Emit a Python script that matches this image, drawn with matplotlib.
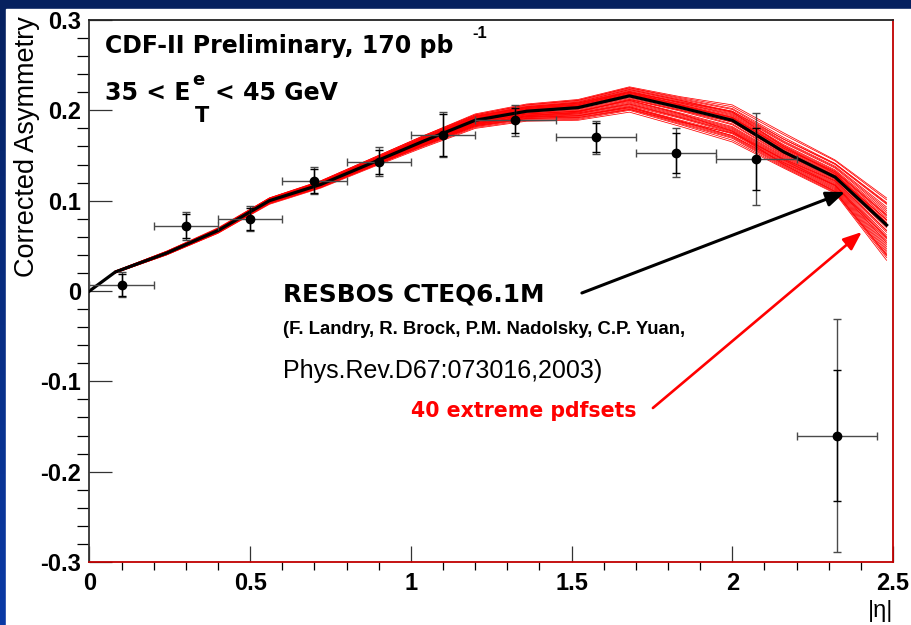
import numpy as np
import matplotlib.pyplot as plt
from matplotlib.colors import LinearSegmentedColormap
from matplotlib.patches import Rectangle
from matplotlib.ticker import MultipleLocator

W, H = 912, 625

# RESBOS CTEQ6.1M central prediction at the |eta| nodes
eta_nodes = [0.0, 0.08, 0.24, 0.40, 0.56, 0.72, 0.88, 1.04, 1.20,
             1.36, 1.52, 1.68, 1.84, 2.00, 2.16, 2.32, 2.48]
resbos_central = [0.000, 0.021, 0.042, 0.067, 0.100, 0.118, 0.142, 0.166, 0.189,
                  0.199, 0.203, 0.216, 0.203, 0.189, 0.154, 0.126, 0.073]

# 40 extreme pdf sets: offsets from the central curve (x 1e-3), nodes 0.08 .. 2.48
pdfset_offsets = [
    [1, 2, 3, 3, 4, 5, 6, 7, 8, 9, 10, 12, 17, 21, 19, 30],
    [1, 2, 2, 3, 4, 5, 6, 6, 7, 8, 9, 11, 15, 19, 18, 28],
    [1, 2, 2, 3, 3, 4, 5, 6, 7, 8, 9, 10, 13, 16, 15, 25],
    [1, 1, 2, 2, 3, 4, 5, 5, 6, 7, 8, 9, 12, 14, 14, 23],
    [1, 1, 2, 2, 3, 3, 4, 5, 5, 6, 7, 8, 10, 12, 12, 20],
    [1, 1, 2, 2, 2, 3, 4, 4, 5, 5, 6, 7, 9, 11, 11, 18],
    [0, 1, 1, 2, 2, 3, 3, 4, 4, 5, 5, 6, 8, 10, 10, 16],
    [0, 1, 1, 1, 2, 2, 3, 3, 4, 4, 5, 5, 7, 8, 8, 14],
    [0, 1, 1, 1, 2, 2, 2, 3, 3, 4, 4, 5, 6, 7, 7, 12],
    [0, 1, 1, 1, 1, 2, 2, 2, 3, 3, 3, 4, 5, 6, 6, 10],
    [0, 0, 1, 1, 1, 1, 2, 2, 2, 3, 3, 3, 4, 5, 5, 8],
    [0, 0, 1, 1, 1, 1, 1, 2, 2, 2, 2, 3, 3, 4, 4, 6],
    [0, 0, 0, 1, 1, 1, 1, 1, 1, 2, 2, 2, 3, 3, 3, 5],
    [0, 0, 0, 0, 1, 1, 1, 1, 1, 1, 1, 2, 2, 2, 2, 3],
    [0, 0, 0, 0, 0, 0, 1, 1, 1, 1, 1, 1, 1, 1, 1, 2],
    [0, 1, 1, 2, 2, 3, 3, 4, 5, 6, 7, 8, 9, 6, 4, 2],
    [0, 0, 1, 1, 1, 2, 2, 2, 3, 3, 4, 6, 10, 14, 15, 24],
    [1, 1, 2, 2, 3, 3, 4, 4, 4, 5, 4, 3, 3, 4, 6, 11],
    [0, 0, 0, 0, 0, -1, -1, -1, -1, -1, -2, -2, -2, -2, -2, -3],
    [0, 0, 0, -1, -1, -1, -1, -1, -2, -2, -3, -3, -4, -3, -3, -6],
    [0, 0, -1, -1, -1, -1, -2, -2, -2, -3, -4, -4, -5, -4, -4, -8],
    [0, 0, -1, -1, -1, -1, -2, -2, -3, -4, -5, -6, -7, -5, -5, -11],
    [0, -1, -1, -1, -1, -2, -2, -3, -3, -4, -6, -7, -8, -6, -6, -13],
    [0, -1, -1, -1, -1, -2, -2, -3, -4, -5, -7, -8, -9, -7, -7, -15],
    [0, -1, -1, -1, -2, -2, -3, -3, -4, -6, -8, -9, -10, -8, -8, -17],
    [0, -1, -1, -2, -2, -2, -3, -4, -5, -6, -9, -10, -11, -9, -9, -19],
    [0, -1, -1, -2, -2, -2, -3, -4, -5, -7, -9, -11, -12, -9, -9, -20],
    [0, -1, -1, -2, -2, -3, -3, -4, -6, -7, -10, -11, -13, -10, -10, -22],
    [-1, -1, -2, -2, -2, -3, -4, -5, -6, -8, -11, -12, -14, -11, -11, -24],
    [-1, -1, -2, -2, -2, -3, -4, -5, -7, -9, -12, -14, -15, -12, -12, -26],
    [-1, -1, -2, -2, -3, -3, -4, -6, -7, -9, -12, -15, -17, -13, -13, -28],
    [-1, -1, -2, -3, -3, -3, -5, -6, -8, -10, -13, -16, -18, -14, -14, -30],
    [-1, -1, -2, -3, -3, -4, -5, -7, -8, -11, -14, -17, -19, -15, -15, -32],
    [-1, -2, -2, -3, -3, -4, -5, -7, -9, -12, -15, -18, -20, -16, -16, -34],
    [-1, -2, -3, -3, -3, -4, -6, -8, -10, -13, -16, -19, -22, -17, -17, -36],
    [-1, -2, -3, -4, -4, -5, -7, -9, -11, -14, -18, -21, -24, -18, -18, -39],
    [0, -1, -1, -2, -2, -3, -4, -6, -8, -11, -15, -16, -14, -8, -4, -6],
    [0, 0, -1, -1, -1, -2, -2, -3, -3, -4, -5, -7, -12, -14, -16, -33],
    [-1, -1, -2, -2, -3, -3, -4, -5, -5, -5, -4, -3, -2, -1, 2, 6],
    [0, -1, -1, -1, -2, -2, -3, -4, -6, -9, -13, -15, -17, -12, -9, -14],
]

# CDF-II corrected asymmetry, 35 < Et < 45 GeV
eta_bin = [0.1, 0.3, 0.5, 0.7, 0.9, 1.1, 1.325, 1.575, 1.825, 2.075, 2.325]
eta_halfwidth = [0.1, 0.1, 0.1, 0.1, 0.1, 0.1, 0.125, 0.125, 0.125, 0.125, 0.125]
asym = [0.007, 0.072, 0.080, 0.122, 0.143, 0.173, 0.189, 0.170, 0.153, 0.146, -0.160]
err_stat = [0.012, 0.013, 0.012, 0.013, 0.013, 0.023, 0.014, 0.016, 0.022, 0.034, 0.072]
err_total = [0.014, 0.015, 0.014, 0.015, 0.016, 0.025, 0.017, 0.018, 0.027, 0.051, 0.129]

fig = plt.figure(figsize=(W / 100, H / 100), dpi=100)

# slide background: blue gradient with a white panel
bg = fig.add_axes([0, 0, 1, 1])
bg.set_axis_off()
grad = np.linspace(0, 1, 256).reshape(-1, 1)
cmap = LinearSegmentedColormap.from_list("slide", ["#06215f", "#0a3aa6"])
bg.imshow(grad, cmap=cmap, aspect="auto", extent=[0, 1, 0, 1])
bg.add_patch(Rectangle((6.5 / W, 0), 1, 1 - 8.5 / H, color="white", transform=bg.transAxes))
bg.set_xlim(0, 1)
bg.set_ylim(0, 1)

L, R, T, B = 89.5, 893, 20, 562
ax = fig.add_axes([L / W, 1 - B / H, (R - L) / W, (B - T) / H])
ax.set_xlim(0, 2.5)
ax.set_ylim(-0.3, 0.3)

central = np.array(resbos_central)
for row in pdfset_offsets:
    ax.plot(eta_nodes[1:], central[1:] + np.array(row) / 1000.0,
            color="#ff0000", lw=0.55, zorder=2)
ax.plot(eta_nodes, central, color="black", lw=2.3, zorder=3)

ax.errorbar(eta_bin, asym, xerr=eta_halfwidth, yerr=err_total, fmt="none",
            ecolor="#4a4a4a", elinewidth=1.0, capsize=2.6, capthick=1.0, zorder=4)
ax.errorbar(eta_bin, asym, yerr=err_stat, fmt="none",
            ecolor="black", elinewidth=1.0, capsize=2.6, capthick=1.0, zorder=5)
ax.plot(eta_bin, asym, "o", color="black", ms=6, zorder=6)

# frame and ticks
ax.spines["left"].set_color("#333333")
ax.spines["top"].set_color("#222222")
ax.spines["right"].set_color("#c00000")
ax.spines["bottom"].set_color("#c00000")
for s in ax.spines.values():
    s.set_linewidth(1.3)

ax.set_xticks([0, 0.5, 1, 1.5, 2, 2.5])
ax.set_xticklabels(["0", "0.5", "1", "1.5", "2", "2.5"])
ax.set_yticks([-0.3, -0.2, -0.1, 0, 0.1, 0.2, 0.3])
ax.set_yticklabels(["-0.3", "-0.2", "-0.1", "0", "0.1", "0.2", "0.3"])
ax.xaxis.set_minor_locator(MultipleLocator(0.1))
ax.yaxis.set_minor_locator(MultipleLocator(0.02))
ax.tick_params(direction="in", top=False, right=False, colors="#333333", labelcolor="black")
ax.tick_params(axis="y", which="major", length=16.5, width=0.9, pad=6)
ax.tick_params(axis="y", which="minor", length=8.5, width=0.9)
ax.tick_params(axis="x", which="major", length=11.5, width=0.9, pad=7)
ax.tick_params(axis="x", which="minor", length=5.8, width=0.9)
for lab in ax.get_xticklabels() + ax.get_yticklabels():
    lab.set_fontfamily("Liberation Sans")
    lab.set_fontweight("bold")
    lab.set_fontsize(17)


def fpx(x, y):
    # pixel position (from top-left) -> figure fraction
    return x / W, 1 - y / H


fig.text(*fpx(27.5, 146.5), "Corrected Asymmetry", rotation=90, ha="center", va="center",
         family="Liberation Sans", fontsize=19.5)
fig.text(*fpx(881, 611), "|η|", ha="center", va="center",
         family="Liberation Sans", fontsize=17)

bold = dict(family="DejaVu Sans", weight="bold")
fig.text(*fpx(105.5, 52.7), "CDF-II Preliminary, 170 pb", ha="left", va="baseline",
         fontsize=17, **bold)
fig.text(*fpx(472, 38), "-1", ha="left", va="baseline", family="Liberation Sans",
         weight="bold", fontsize=12)

t1 = fig.text(*fpx(105.5, 100), "35 < E", ha="left", va="baseline", fontsize=17, **bold)
ax.annotate("e", xy=(1, H - 85), xycoords=(t1, "figure pixels"),
            xytext=(1, 0), textcoords="offset points", ha="left", va="baseline",
            fontsize=13, **bold)
ax.annotate("T", xy=(1, H - 121.7), xycoords=(t1, "figure pixels"),
            xytext=(3, 0), textcoords="offset points", ha="left", va="baseline",
            fontsize=15, **bold)
ax.annotate("< 45 GeV", xy=(1, H - 100), xycoords=(t1, "figure pixels"),
            xytext=(17, 0), textcoords="offset points", ha="left", va="baseline",
            fontsize=17, **bold)

fig.text(*fpx(283, 301.7), "RESBOS CTEQ6.1M", ha="left", va="baseline",
         fontsize=17.8, **bold)
fig.text(*fpx(283, 334), "(F. Landry, R. Brock, P.M. Nadolsky, C.P. Yuan,", ha="left",
         va="baseline", family="Liberation Sans", weight="bold", fontsize=13.3)
fig.text(*fpx(283, 378.3), "Phys.Rev.D67:073016,2003)", ha="left", va="baseline",
         family="Liberation Sans", fontsize=18)
fig.text(*fpx(411.5, 416.7), "40 extreme pdfsets", ha="left", va="baseline",
         color="#ff0000", fontsize=14.8, **bold)

# pointer arrows to the central curve and the pdf band
ax.annotate("", xy=(2.351, 0.1096), xytext=(1.532, -0.0022),
            arrowprops=dict(arrowstyle="-|>,head_length=0.7,head_width=0.28",
                            color="black", lw=2.2, mutation_scale=16, shrinkA=0, shrinkB=0),
            zorder=7)
ax.annotate("", xy=(2.403, 0.0653), xytext=(1.753, -0.1295),
            arrowprops=dict(arrowstyle="-|>,head_length=0.7,head_width=0.28",
                            color="#ff0000", lw=1.9, mutation_scale=16, shrinkA=0, shrinkB=0),
            zorder=7)

fig.savefig("out.png", dpi=100)
